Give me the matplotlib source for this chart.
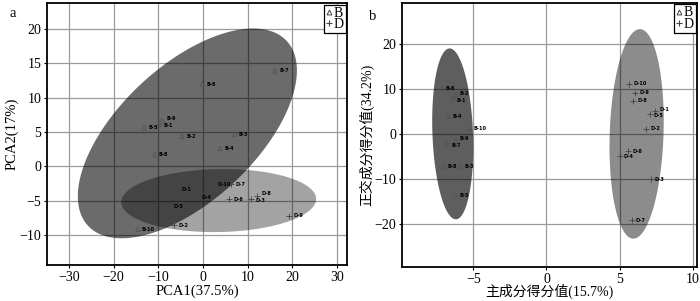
import numpy as np
import matplotlib

matplotlib.use("Agg")
import matplotlib.pyplot as plt
from matplotlib.lines import Line2D

plt.rcParams["font.family"] = ["Liberation Serif", "Noto Sans CJK SC"]

# ---- panel a: PCA scores ----
a_b_names = ["B-7", "B-6", "B-9", "B-1", "B-5", "B-2", "B-3", "B-4", "B-8", "B-10"]
a_b_x = [16.1, -0.2, -9.2, -9.8, -13.2, -4.7, 7.1, 3.8, -10.8, -14.6]
a_b_y = [13.9, 12.0, 6.6, 6.2, 5.6, 4.4, 4.7, 2.6, 1.7, -9.2]
a_d_names = ["D-1", "D-10", "D-7", "D-4", "D-6", "D-3", "D-8", "D-5", "D-2", "D-9"]
a_d_x = [-5.8, 2.2, 6.3, -1.3, 5.9, 10.7, 12.1, -7.6, -6.4, 19.2]
a_d_y = [-3.4, -2.6, -2.6, -4.5, -4.8, -4.8, -4.3, -5.8, -8.6, -7.2]
# ellipse: centre x, centre y, half-range x, half-range y, correlation
a_ell_b = (-3.5, 4.8, 24.5, 15.3, 0.6)
a_ell_d = (3.5, -5.0, 21.8, 4.6, 0.05)

# ---- panel b: OPLS scores ----
b_b_names = ["B-6", "B-2", "B-1", "B-4", "B-10", "B-9", "B-7", "B-8", "B-3", "B-5"]
b_b_x = [-7.15, -6.19, -6.42, -6.71, -5.27, -6.19, -6.80, -7.05, -5.87, -6.23]
b_b_y = [10.1, 8.7, 7.8, 3.9, 1.2, -1.4, -2.2, -7.3, -7.3, -13.6]
b_d_names = ["D-10", "D-9", "D-8", "D-1", "D-5", "D-2", "D-6", "D-4", "D-3", "D-7"]
b_d_x = [5.62, 6.03, 5.91, 7.40, 7.05, 6.78, 5.59, 5.00, 7.12, 5.82]
b_d_y = [11.2, 9.2, 7.4, 5.1, 4.4, 1.1, -3.9, -5.0, -10.1, -19.2]
b_ell_b = (-6.4, 0.0, 1.4, 19.0, -0.15)
b_ell_d = (6.15, 0.0, 1.85, 23.3, 0.12)

# small vertical label nudges (points) where labels crowd each other
NUDGE = {("a", "B-9"): 1.5, ("a", "B-1"): -1.0, ("a", "D-8"): 1.5, ("a", "D-3"): -1.0,
         ("b", "B-2"): 1.0, ("b", "B-1"): -1.0, ("b", "B-9"): 1.0, ("b", "B-7"): -1.0,
         ("b", "D-1"): 1.3, ("b", "D-5"): -1.0}


def ellipse(ax, params, color, alpha):
    cx, cy, sx, sy, r = params
    t = np.linspace(0, 2 * np.pi, 200)
    x = cx + sx * np.cos(t)
    y = cy + sy * (r * np.cos(t) + np.sqrt(1 - r * r) * np.sin(t))
    ax.fill(x, y, color=color, alpha=alpha, lw=0, zorder=2)


def points(ax, panel, xs, ys, names, marker):
    if marker == "^":
        ax.scatter(xs, ys, marker="^", s=10, facecolors="none", edgecolors="#555555",
                   linewidths=0.6, zorder=3)
    else:
        ax.scatter(xs, ys, marker="+", s=14, color="#444444", linewidths=0.6, zorder=3)
    for x, y, n in zip(xs, ys, names):
        ax.annotate(n, (x, y), xytext=(3, NUDGE.get((panel, n), 0)), textcoords="offset points",
                    fontsize=3.6, fontweight="bold", family="DejaVu Sans",
                    va="center", ha="left", color="black", zorder=4)


def style(ax):
    ax.grid(True, color="#9a9a9a", lw=0.9, zorder=0)
    ax.set_axisbelow(True)
    for s in ax.spines.values():
        s.set_linewidth(1.3)
        s.set_color("black")
    ax.tick_params(labelsize=10, length=2, width=0.8, pad=2)
    handles = [Line2D([], [], marker="^", ls="none", mfc="none", mec="#444444", ms=3.5, mew=0.7),
               Line2D([], [], marker="+", ls="none", color="#444444", ms=4.5, mew=0.8)]
    leg = ax.legend(handles, ["B", "D"], loc="upper right", borderaxespad=0.1,
                    handlelength=0.4, handletextpad=0.1, borderpad=0.15, labelspacing=-0.1,
                    fontsize=10, fancybox=False, framealpha=1, edgecolor="black")
    leg.get_frame().set_linewidth(0.9)


fig = plt.figure(figsize=(7.0, 3.01), dpi=100, facecolor="white")
ax1 = fig.add_axes([0.0671, 0.1196, 0.4286, 0.870])
ax2 = fig.add_axes([0.5743, 0.113, 0.4214, 0.877])

ellipse(ax1, a_ell_d, "black", 0.36)
ellipse(ax1, a_ell_b, "black", 0.58)
points(ax1, "a", a_b_x, a_b_y, a_b_names, "^")
points(ax1, "a", a_d_x, a_d_y, a_d_names, "+")
ax1.set_xlim(-34.9, 32.2)
ax1.set_ylim(-14.4, 23.8)
ax1.set_xticks([-30, -20, -10, 0, 10, 20, 30])
ax1.set_yticks([-10, -5, 0, 5, 10, 15, 20])
ax1.set_xlabel("PCA1(37.5%)", fontsize=10.5, labelpad=1)
ax1.set_ylabel("PCA2(17%)", fontsize=10.5, labelpad=1)
style(ax1)
fig.text(0.014, 0.955, "a", fontsize=10.5, ha="left", va="center")

ellipse(ax2, b_ell_b, "black", 0.63)
ellipse(ax2, b_ell_d, "black", 0.45)
points(ax2, "b", b_b_x, b_b_y, b_b_names, "^")
points(ax2, "b", b_d_x, b_d_y, b_d_names, "+")
ax2.set_xlim(-9.86, 10.27)
ax2.set_ylim(-29.6, 29.1)
ax2.set_xticks([-5, 0, 5, 10])
ax2.set_yticks([-20, -10, 0, 10, 20])
ax2.set_xlabel("主成分得分值(15.7%)", fontsize=10, labelpad=-1)
ax2.set_ylabel("正交成分得分值(34.2%)", fontsize=10, labelpad=0)
style(ax2)
fig.text(0.527, 0.945, "b", fontsize=10.5, ha="left", va="center")

fig.savefig("out.png", dpi=100, facecolor="white")
